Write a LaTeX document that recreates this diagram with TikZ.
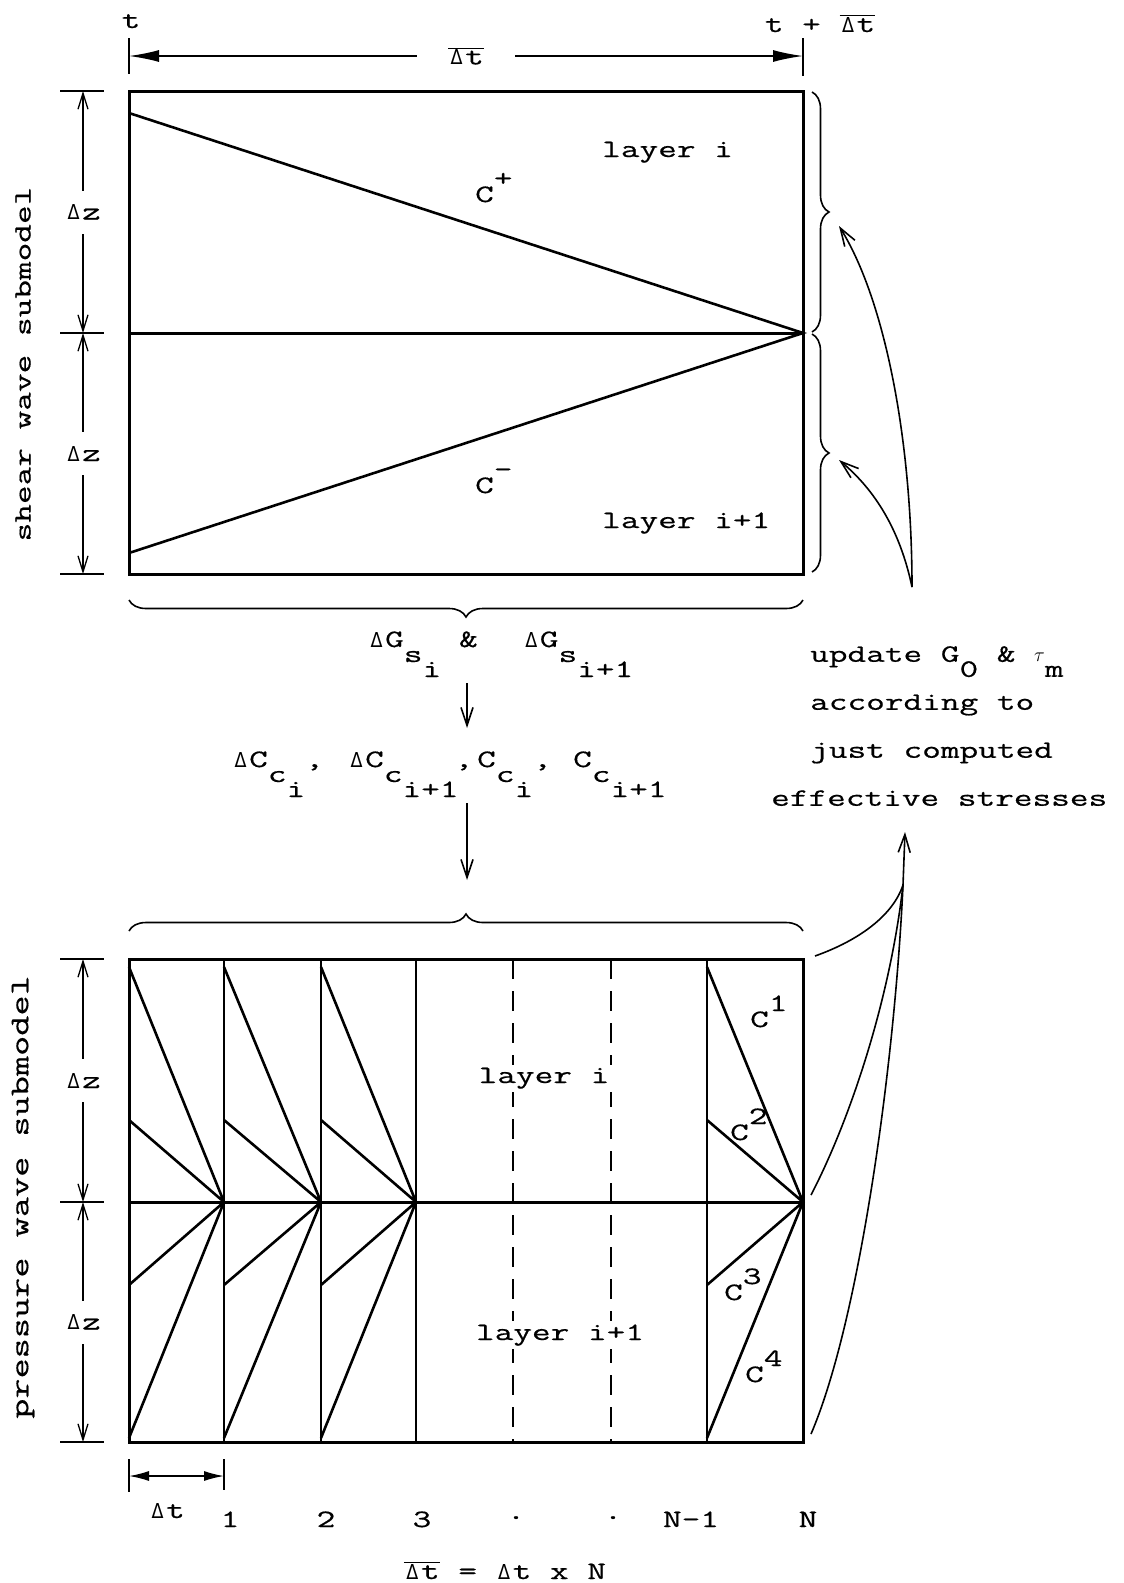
\documentclass[tikz,border=0pt]{standalone}
\usepackage{graphicx}
\usepackage{fontspec}
\setmonofont{Latin Modern Mono}[FakeStretch=1.45,FakeBold=0.6]
\newfontfamily\dvsans{DejaVu Sans}
\usetikzlibrary{arrows.meta,decorations.pathreplacing}
\newcommand\dn[1]{\raisebox{-15pt}{#1}}
\newcommand\up[1]{\raisebox{16pt}{#1}}
\newcommand\Dl{\makebox[17pt]{\resizebox{12pt}{15pt}{\dvsans Δ}}}
\newcommand\Dtbar{$\overline{\mbox{\Dl t}}$}
\begin{document}
\begin{tikzpicture}[x=1pt,y=-1pt,
  every node/.style={font=\ttfamily\fontsize{25}{48}\selectfont,inner sep=0pt},
  rim/.style={line width=3pt},
  chr/.style={line width=2.6pt},
  slim/.style={line width=1.6pt},
  post/.style={line width=2.1pt},
  dimarr/.style={line width=1.3pt,{Straight Barb[length=16pt,width=10pt]}-{Straight Barb[length=16pt,width=10pt]}},
  bigdim/.style={line width=1.5pt,{Latex[length=30pt,width=12pt]}-{Latex[length=30pt,width=12pt]}},
  smalldim/.style={line width=1.5pt,{Latex[length=20pt,width=10pt]}-{Latex[length=20pt,width=10pt]}},
  flow/.style={line width=1.6pt,-{Straight Barb[length=18pt,width=12pt]}},
  curly/.style={decorate,decoration={brace,amplitude=#1},line width=1.6pt}]
  \useasboundingbox (0,0) rectangle (1124,1583);
  % shear wave submodel
  \coordinate (TL) at (129,91);
  \coordinate (ML) at (129,333);
  \coordinate (MR) at (803,333);
  \coordinate (BR) at (803,574);
  \coordinate (Cp) at (129,113);
  \coordinate (Cm) at (129,553);
  \draw[rim] (TL) rectangle (BR);
  \draw[rim] (ML) -- (MR);
  \draw[chr] (Cp) -- (MR) -- (Cm);
  \node[anchor=base west] (Li) at (602,157) {layer i};
  \node[anchor=base west] (Lii) at (602,528) {layer i+1};
  \node[anchor=base west] (Cplus) at (475,202) {C\up{+}};
  \node[anchor=base west] (Cminus) at (475,493) {C\up{-}};
  % time step on top
  \draw[slim] (129,38) -- (129,74);
  \draw[slim] (803,38) -- (803,76);
  \draw[bigdim] (129,56) -- node[fill=white,inner xsep=31pt,inner ysep=4pt] (Dtop) {\Dtbar} (803,56);
  \node[anchor=base] (t0) at (131,28) {t};
  \node[anchor=base] (t1) at (820,32) {t + \Dtbar};
  % layer thickness on the left
  \foreach \y in {91,333,574,959,1202,1442}
    \draw[slim] (60,\y) -- (104,\y);
  \draw[dimarr] (83,91) -- node[fill=white,inner ysep=14pt] (dz1) {\Dl z} (83,333);
  \draw[dimarr] (83,333) -- node[fill=white,inner ysep=14pt] (dz2) {\Dl z} (83,574);
  \draw[dimarr] (83,959) -- node[fill=white,inner ysep=14pt] (dz3) {\Dl z} (83,1202);
  \draw[dimarr] (83,1202) -- node[fill=white,inner ysep=14pt] (dz4) {\Dl z} (83,1442);
  \node[rotate=90] (shear) at (23,364) {shear wave submodel};
  \node[rotate=90,font=\ttfamily\fontsize{27}{30}\selectfont] (press) at (23,1197) {pressure wave submodel};
  % braces and update loop
  \draw[curly=17pt] (812,92) -- (812,332);
  \draw[curly=17pt] (812,334) -- (812,572);
  \draw[curly=17pt] (803,600) -- (129,600);
  \coordinate (upd) at (912,587);
  \draw[flow] (upd) .. controls (912,440) and (885,300) .. (839,226);
  \draw[flow] (upd) .. controls (900,530) and (875,490) .. (839,460);
  \node[anchor=north west,align=left] (updtext) at (810,646)
    {update G\dn{0} \& \scalebox{0.8}{$\tau$}\dn{m}\\according to\\just computed\\\hspace*{-39pt}effective stresses};
  % passing the moduli down
  \node[anchor=base west] (dG) at (368,647)
    {\Dl G\dn{s\dn{i}}\hspace{18pt}\&\hspace{45pt}\Dl G\dn{s\dn{i+1}}};
  \coordinate (a1) at (467,683);
  \coordinate (a2) at (467,728);
  \draw[flow] (a1) -- (a2);
  \node[anchor=base west] (dC) at (232,767)
    {\makebox[116pt][l]{\Dl C\dn{c\dn{i}},}\makebox[129pt][l]{\Dl C\dn{c\dn{i+1}}\hspace{-4pt},}\makebox[96pt][l]{C\dn{c\dn{i}},}C\dn{c\dn{i+1}}};
  \coordinate (a3) at (467,803);
  \coordinate (a4) at (467,880);
  \draw[flow] (a3) -- (a4);
  \draw[curly=17pt] (129,931) -- (803,931);
  % pressure wave submodel
  \coordinate (tl) at (129,959);
  \coordinate (ml) at (129,1202);
  \coordinate (mr) at (803,1202);
  \coordinate (br) at (803,1442);
  \draw[rim] (tl) rectangle (br);
  \draw[rim] (ml) -- (mr);
  \foreach \x in {224,321,416,707}
    \draw[post] (\x,959) -- (\x,1442);
  \foreach \x in {513,611}
    \draw[post,dash pattern=on 20pt off 12pt] (\x,959) -- (\x,1442);
  \foreach \a/\b in {129/224,224/321,321/416,707/803}
    \draw[chr] (\a,967) -- (\b,1202) -- (\a,1438) (\a,1120) -- (\b,1202) -- (\a,1285);
  \node[anchor=base,fill=white,inner sep=3pt] (li) at (544,1083) {layer i};
  \node[anchor=base,fill=white,inner sep=3pt] (lii) at (560,1340) {layer i+1};
  \node[anchor=base west] (c1) at (750,1027) {C\up{1}};
  \node[anchor=base west] (c2) at (730,1140) {C\up{2}};
  \node[anchor=base west] (c3) at (724,1300) {C\up{3}};
  \node[anchor=base west] (c4) at (745,1382) {C\up{4}};
  \coordinate (meet) at (903,885);
  \coordinate (eff) at (905,832);
  \draw[slim] (815,956) .. controls (860,940) and (893,915) .. (meet);
  \draw[slim] (811,1195) .. controls (850,1120) and (890,1000) .. (meet);
  \draw[slim] (811,1434) .. controls (860,1320) and (895,1060) .. (meet);
  \draw[flow] (meet) -- (eff);
  % sub steps
  \draw[slim] (129,1459) -- (129,1492);
  \draw[slim] (224,1459) -- (224,1490);
  \draw[smalldim] (129,1476) -- (224,1476);
  \node[anchor=base] (dt) at (167,1518) {\Dl t};
  \foreach \x/\t [count=\k] in {230/1,326/2,422/3,691/N-1,808/N}
    \node[anchor=base] (n\k) at (\x,1527) {\t};
  \node[anchor=base] (d1) at (516,1519) {.};
  \node[anchor=base] (d2) at (613,1519) {.};
  \node[anchor=base] (total) at (505,1579) {\Dtbar{} = \Dl t x N};
\end{tikzpicture}
\end{document}
